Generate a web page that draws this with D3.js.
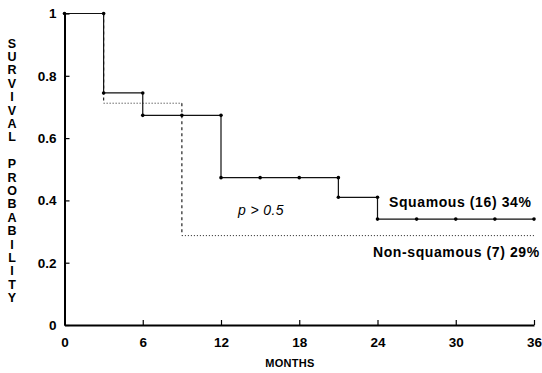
<!DOCTYPE html>
<html>
<head>
<meta charset="utf-8">
<script src="https://cdn.jsdelivr.net/npm/d3@7"></script>
<style>
  body { margin: 0; background: #fff; }
  text { font-family: "Liberation Sans", Arial, sans-serif; }
</style>
</head>
<body>
<script>
var w = 542;
var h = 373;

// data
var monthTicks = [0, 6, 12, 18, 24, 30, 36];
var probTicks = [0, 0.2, 0.4, 0.6, 0.8, 1];
var probLabels = ["0", "0.2", "0.4", "0.6", "0.8", "1"];

var squamousTimes = [0, 3, 6, 12, 21, 24, 36];
var squamousSurv = [1, 0.745, 0.673, 0.473, 0.41, 0.34];
var squamousDotMonths = [0, 3, 3, 6, 6, 9, 12, 12, 15, 18, 21, 21, 24, 24, 27, 30, 33, 36];
var squamousDotValues = [1, 1, 0.745, 0.745, 0.673, 0.673, 0.673, 0.473, 0.473, 0.473, 0.473, 0.41, 0.41, 0.34, 0.34, 0.34, 0.34, 0.34];

var nonSqTimes = [0, 3, 9, 36];
var nonSqSurv = [1, 0.712, 0.287];

var x = d3.scaleLinear().domain([0, 36]).range([64.5, 534]);
var y = d3.scaleLinear().domain([0, 1]).range([325, 13.5]);

var svg = d3.select("body")
      .append("svg")
      .attr("width", w)
      .attr("height", h);

// step path points from times/survival
function steps(times, surv) {
  var pts = [];
  for (var i = 0; i < surv.length; i++) {
    pts.push([times[i], surv[i]]);
    pts.push([times[i + 1], surv[i]]);
  }
  return pts;
}

var line = d3.line()
    .x(function(d) { return x(d[0]); })
    .y(function(d) { return y(d[1]); });

// non-squamous: dotted horizontals, dashed verticals
var nsPts = steps(nonSqTimes, nonSqSurv);
for (var i = 0; i < nsPts.length - 1; i++) {
  var a = nsPts[i], b = nsPts[i + 1];
  var vertical = a[0] === b[0];
  svg.append("path")
     .attr("d", line([a, b]))
     .attr("fill", "none")
     .attr("stroke", "#222")
     .attr("stroke-width", vertical ? 1.2 : 1)
     .attr("stroke-dasharray", vertical ? "3,3" : "1,2");
}

// squamous: solid step line
svg.append("path")
   .attr("d", line(steps(squamousTimes, squamousSurv)))
   .attr("fill", "none")
   .attr("stroke", "#111")
   .attr("stroke-width", 1.2);

svg.selectAll("circle")
   .data(squamousDotMonths)
   .enter()
   .append("circle")
   .attr("cx", function(d) { return x(d); })
   .attr("cy", function(d, i) { return y(squamousDotValues[i]); })
   .attr("r", 1.8)
   .attr("fill", "#000");

// axes
var xAxis = d3.axisBottom(x)
    .tickValues(monthTicks)
    .tickSize(-5)
    .tickSizeOuter(0)
    .tickPadding(12);

var yAxis = d3.axisLeft(y)
    .tickValues(probTicks)
    .tickFormat(function(d, i) { return probLabels[i]; })
    .tickSize(-5)
    .tickSizeOuter(0)
    .tickPadding(8);

var gx = svg.append("g")
   .attr("transform", "translate(0," + y(0) + ")")
   .call(xAxis);

var gy = svg.append("g")
   .attr("transform", "translate(" + x(0) + ",0)")
   .call(yAxis);

[gx, gy].forEach(function(g) {
  g.select(".domain").attr("stroke", "#000").attr("stroke-width", 2);
  g.selectAll(".tick line").attr("stroke", "#000").attr("stroke-width", 1.2);
  g.selectAll(".tick text")
   .attr("font-family", "Liberation Sans, Arial, sans-serif")
   .attr("font-size", "13.5px")
   .attr("font-weight", "bold")
   .attr("fill", "#000");
});

// axis titles
svg.append("text")
   .attr("x", 290)
   .attr("y", 367)
   .attr("text-anchor", "middle")
   .attr("font-size", "11px")
   .attr("font-weight", "bold")
   .attr("letter-spacing", "0.3px")
   .text("MONTHS");

var yTitle = "SURVIVAL PROBABILITY".split("");
svg.selectAll(".ylab")
   .data(yTitle)
   .enter()
   .append("text")
   .attr("class", "ylab")
   .attr("x", 12)
   .attr("y", function(d, i) { return 47.5 + i * 13.4; })
   .attr("text-anchor", "middle")
   .attr("font-size", "12.5px")
   .attr("font-weight", "bold")
   .text(function(d) { return d; });

// annotations
svg.append("text")
   .attr("x", 389)
   .attr("y", 207)
   .attr("font-size", "14px")
   .attr("font-weight", "bold")
   .attr("letter-spacing", "0.6px")
   .text("Squamous (16) 34%");

svg.append("text")
   .attr("x", 373)
   .attr("y", 257)
   .attr("font-size", "14px")
   .attr("font-weight", "bold")
   .attr("letter-spacing", "0.6px")
   .text("Non-squamous (7) 29%");

svg.append("text")
   .attr("x", 238)
   .attr("y", 215)
   .attr("font-size", "14px")
   .attr("font-style", "italic")
   .attr("letter-spacing", "0.4px")
   .text("p > 0.5");
</script>
</body>
</html>
